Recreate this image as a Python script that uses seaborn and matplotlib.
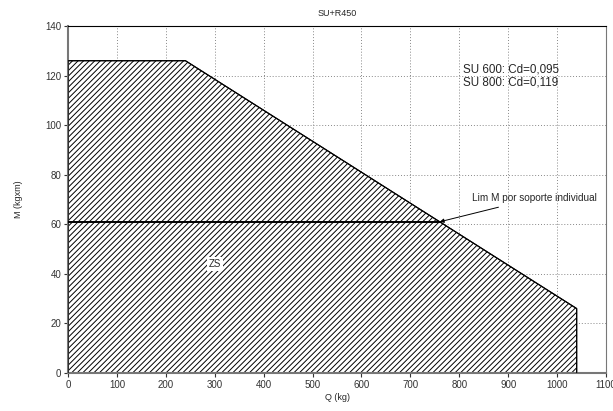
import matplotlib
matplotlib.use("Agg")
import matplotlib.pyplot as plt
import seaborn as sns
import pandas as pd

# limite de la zone de sécurité (ZS)
q_lim = [0, 0, 240, 1040, 1040]
m_lim = [0, 126, 126, 26, 0]

# moment limite par soporte individual
q_ind = [0, 760]
m_ind = [61, 61]

x_ticks = [0, 100, 200, 300, 400, 500, 600, 700, 800, 900, 1000, 1100]
y_ticks = [0, 20, 40, 60, 80, 100, 120, 140]

sns.set_style("white")
plt.rcParams['font.family'] = ['Liberation Sans', 'DejaVu Sans']
plt.rcParams['hatch.linewidth'] = 0.7

fig = plt.figure(figsize=(6.13, 4.11), dpi=100)
ax = fig.add_axes([0.111, 0.0925, 0.8776, 0.8442])

ax.grid(True, which="major", linestyle=(0, (1, 2)), color="#888888", linewidth=0.7)
ax.set_axisbelow(True)

df = pd.DataFrame({"Q": q_lim, "M": m_lim})
ax.fill(q_lim, m_lim, facecolor="white", edgecolor="black", hatch="//////", linewidth=0.8, zorder=2)
sns.lineplot(x="Q", y="M", data=df, sort=False, estimator=None, color="black", linewidth=0.8, ax=ax, zorder=3)
sns.lineplot(x=q_ind, y=m_ind, sort=False, estimator=None, color="black", linewidth=1.4, ax=ax, zorder=4)

ax.set_xlim(0, 1100)
ax.set_ylim(0, 140)
ax.set_xticks(x_ticks)
ax.set_yticks(y_ticks)
ax.set_xticks(range(50, 1100, 100), minor=True)
ax.set_yticks(range(10, 140, 20), minor=True)
ax.tick_params(which="both", direction="out", labelsize=7, colors="#333333", length=3, width=0.8, pad=2)
ax.tick_params(which="minor", length=2.5)
ax.tick_params(bottom=True, left=True)
for s in ["left", "bottom"]:
    ax.spines[s].set_color("#777777")
    ax.spines[s].set_linewidth(1.5)
ax.spines["top"].set_color("black")
ax.spines["top"].set_linewidth(0.8)
ax.spines["right"].set_color("#777777")
ax.spines["right"].set_linewidth(0.8)

ax.set_title("SU+R450", fontsize=6.5, pad=7)
ax.set_xlabel("Q (kg)", fontsize=6.5, labelpad=2)
ax.set_ylabel("M (kgxm)", fontsize=6.5, labelpad=16)

ax.text(300, 44, "ZS", fontsize=7, ha="center", va="center", zorder=5,
        bbox=dict(facecolor="white", edgecolor="none", pad=1.5))
ax.text(808, 124.8, "SU 600: Cd=0,095\nSU 800: Cd=0,119", fontsize=8.4, ha="left", va="top",
        linespacing=1.1, zorder=5)
ax.annotate("Lim M por soporte individual", xy=(760, 61), xytext=(826, 70.5),
            fontsize=7.2, ha="left", va="center", zorder=5,
            arrowprops=dict(arrowstyle="-|>", color="black", lw=0.7, mutation_scale=6,
                            shrinkA=2, shrinkB=0))

fig.savefig("out.png", dpi=100)
